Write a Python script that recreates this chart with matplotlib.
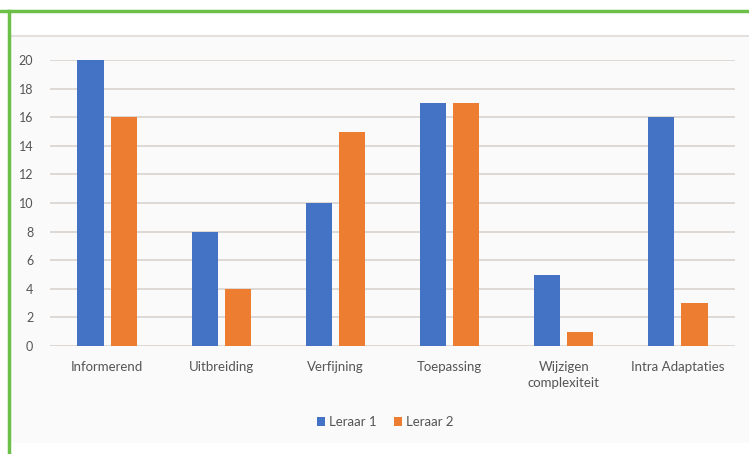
import numpy as np
import matplotlib.pyplot as plt
from matplotlib.patches import Rectangle
from matplotlib.lines import Line2D

categories = ['Informerend', 'Uitbreiding', 'Verfijning', 'Toepassing',
              'Wijzigen\ncomplexiteit', 'Intra Adaptaties']
leraar_1 = [20, 8, 10, 17, 5, 16]
leraar_2 = [16, 4, 15, 17, 1, 3]
series_names = ['Leraar 1', 'Leraar 2']

blue = '#4472C4'
orange = '#ED7D31'
text_grey = '#555555'

plt.rcParams['font.family'] = ['Lato', 'DejaVu Sans']

fig = plt.figure(figsize=(7.49, 4.54), dpi=100)
fig.patch.set_facecolor('white')

# background layer: chart area and green frame
bg = fig.add_axes([0, 0, 1, 1], zorder=0)
bg.set_xlim(0, 749)
bg.set_ylim(454, 0)
bg.axis('off')
bg.add_patch(Rectangle((10, 36), 739, 407, facecolor='#fafafa', edgecolor='none'))
bg.add_line(Line2D([10, 749], [36, 36], color='#e4e0dd', lw=1.5))
bg.add_line(Line2D([0, 749], [11, 11], color='#6cc04a', lw=2.5))
bg.add_line(Line2D([9, 9], [11, 454], color='#6cc04a', lw=2.5))

ax = fig.add_axes([50 / 749, 1 - 346 / 454, (735 - 50) / 749, (346 - 60) / 454], zorder=1)
ax.set_facecolor('none')

x = np.arange(len(categories))
width = 0.23
offset = 0.145
ax.bar(x - offset, leraar_1, width, color=blue, label=series_names[0], zorder=3)
ax.bar(x + offset, leraar_2, width, color=orange, label=series_names[1], zorder=3)

ax.set_xlim(-0.5, len(categories) - 0.5)
ax.set_ylim(0, 20)
ax.set_yticks(range(0, 21, 2))
ax.set_xticks(x)
ax.set_xticklabels(categories, fontsize=9.5, color=text_grey, linespacing=1.4)
ax.tick_params(axis='y', labelsize=9, labelcolor=text_grey, length=0, pad=12)
ax.tick_params(axis='x', length=0, pad=11)
ax.grid(axis='y', color='#d9d3ce', lw=1.2, zorder=0)
ax.set_axisbelow(True)
for s in ax.spines.values():
    s.set_visible(False)

leg = fig.legend(loc='center', bbox_to_anchor=(385 / 749, 1 - 422 / 454), ncol=2,
                 frameon=False, fontsize=9.5, handlelength=0.6, handleheight=0.7,
                 handletextpad=0.3, columnspacing=1.3)
for t in leg.get_texts():
    t.set_color(text_grey)

fig.savefig('out.png', dpi=100)
